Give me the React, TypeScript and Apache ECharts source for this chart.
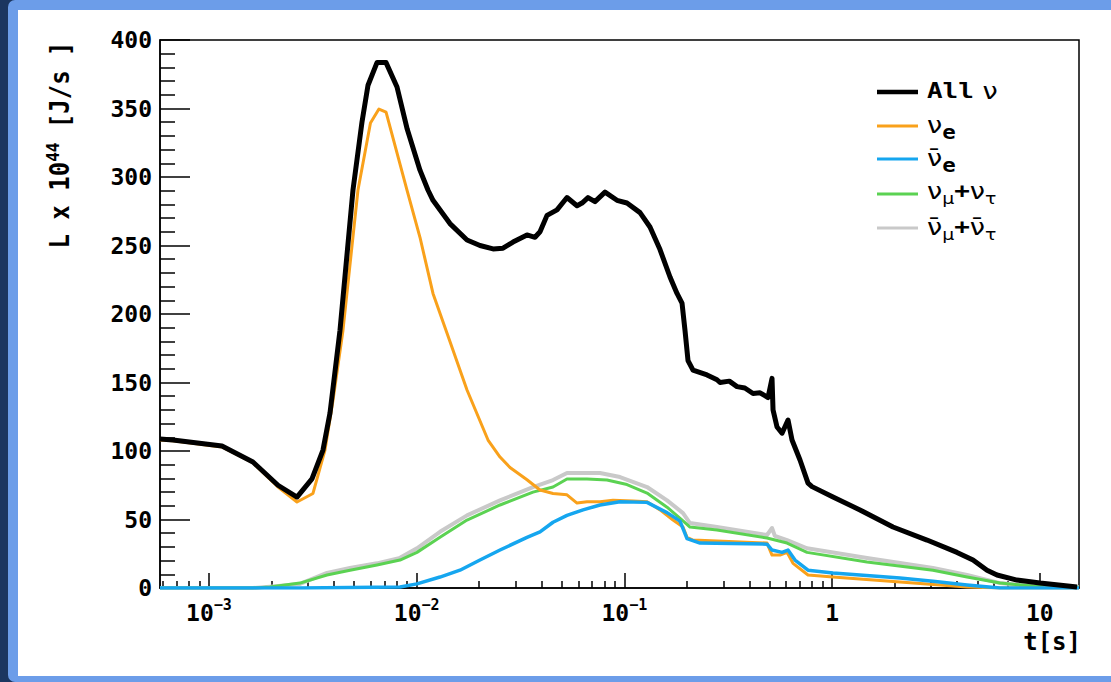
import React, { useEffect, useRef } from "react";
import * as echarts from "echarts";

// ---- data: [t (s), L x 1e44 J/s] ----
const allNu: [number, number][] = [
  [5.81e-4, 108.8], [6.71e-4, 108], [1.155e-3, 103.6], [1.628e-3, 92], [2.149e-3, 75],
  [2.653e-3, 66.4], [3.132e-3, 79.6], [3.539e-3, 100.7], [3.825e-3, 127.7], [4.272e-3, 188],
  [4.935e-3, 290.5], [5.452e-3, 340], [5.83e-3, 367], [6.44e-3, 383.5], [7.12e-3, 383.5],
  [8.04e-3, 365.7], [9.0e-3, 335], [1.037e-2, 305], [1.133e-2, 290.5], [1.198e-2, 283],
  [1.446e-2, 266], [1.747e-2, 254], [2.017e-2, 250], [2.331e-2, 247.5], [2.604e-2, 248],
  [2.909e-2, 252.5], [3.397e-2, 257.7], [3.712e-2, 256], [3.924e-2, 260], [4.241e-2, 272],
  [4.739e-2, 276], [5.292e-2, 285], [5.914e-2, 279], [6.251e-2, 281], [6.681e-2, 285],
  [7.218e-2, 282], [8.065e-2, 289], [9.212e-2, 283], [1.029e-1, 281], [1.189e-1, 274],
  [1.328e-1, 263.5], [1.484e-1, 247], [1.658e-1, 227], [1.792e-1, 215], [1.894e-1, 208],
  [1.958e-1, 188], [2.024e-1, 166], [2.139e-1, 159], [2.499e-1, 155.5], [2.792e-1, 152],
  [2.886e-1, 150], [3.2e-1, 151], [3.485e-1, 147], [3.8e-1, 146], [4.161e-1, 142],
  [4.5e-1, 142.5], [4.915e-1, 139], [5.137e-1, 153], [5.195e-1, 130], [5.43e-1, 117.5],
  [5.74e-1, 113], [6.134e-1, 122.6], [6.412e-1, 108], [7.006e-1, 93.4], [7.656e-1, 76.6],
  [8.004e-1, 74], [1.01, 66.4], [1.362, 57], [1.964, 44.5], [2.863, 35], [3.994, 26],
  [4.769, 20.4], [5.57, 13], [6.222, 9.5], [7.766, 5.8], [10.02, 3.6], [15.11, 0.7],
];

const nuE: [number, number][] = [
  [5.81e-4, 108], [6.71e-4, 107.4], [1.155e-3, 103], [1.628e-3, 91.4], [2.149e-3, 73.7],
  [2.653e-3, 62.8], [3.167e-3, 69], [3.618e-3, 100.7], [3.954e-3, 137], [4.416e-3, 188],
  [5.216e-3, 290.5], [5.99e-3, 339.4], [6.58e-3, 349.6], [7.12e-3, 347.4], [8.98e-3, 290.5],
  [1.037e-2, 256], [1.198e-2, 215], [1.40e-2, 186], [1.747e-2, 144.5], [2.205e-2, 108],
  [2.519e-2, 95.6], [2.813e-2, 88], [3.397e-2, 79], [3.924e-2, 71.5], [4.533e-2, 69],
  [5.292e-2, 68], [5.914e-2, 62], [6.607e-2, 63], [7.63e-2, 63], [8.811e-2, 64],
  [1.1e-1, 63.5], [1.285e-1, 63], [1.484e-1, 57], [1.714e-1, 49.6], [1.915e-1, 44.5],
  [2.002e-1, 37], [2.139e-1, 35], [2.792e-1, 34.3], [4.861e-1, 32.8], [5.137e-1, 24],
  [5.614e-1, 24], [6.067e-1, 26], [6.484e-1, 18], [7.656e-1, 9.5], [1.01, 8],
  [2.123, 4.4], [4.462, 0.7], [6.433, 0], [15.44, 0],
];

const antiNuE: [number, number][] = [
  [5.81e-4, 0], [2.742e-3, 0], [8.312e-3, 0.7], [1.003e-2, 3], [1.295e-2, 8],
  [1.616e-2, 13], [2.017e-2, 20.4], [2.519e-2, 27.7], [3.397e-2, 37], [3.924e-2, 41],
  [4.533e-2, 48], [5.292e-2, 53], [6.321e-2, 57], [7.63e-2, 60.6], [9.524e-2, 63],
  [1.285e-1, 62.5], [1.604e-1, 55], [1.852e-1, 48.8], [2.002e-1, 36], [2.312e-1, 32.8],
  [4.861e-1, 32], [5.137e-1, 27.7], [5.74e-1, 26], [6.134e-1, 27.7], [6.628e-1, 20.4],
  [7.656e-1, 13], [1.01, 11], [2.123, 7.3], [3.06, 5], [4.462, 2.2], [6.433, 0], [15.44, 0],
];

const nuMuTau: [number, number][] = [
  [5.81e-4, 0], [1.628e-3, 0], [1.966e-3, 0.7], [2.742e-3, 3.6], [3.699e-3, 9.5],
  [4.774e-3, 13], [6.438e-3, 16.8], [8.312e-3, 20.4], [1.003e-2, 26], [1.295e-2, 37],
  [1.747e-2, 49.6], [2.519e-2, 60.6], [3.63e-2, 70], [4.533e-2, 73.7], [5.292e-2, 79.6],
  [6.607e-2, 79.6], [8.246e-2, 78.8], [1.029e-1, 75.5], [1.285e-1, 69.3], [1.604e-1, 59],
  [1.915e-1, 49], [2.069e-1, 44.5], [2.792e-1, 42.3], [4.861e-1, 36.5], [6.067e-1, 32.8],
  [7.573e-1, 26], [1.472, 19], [3.06, 13], [4.462, 8], [6.433, 3.6], [9.275, 1.5],
  [13.52, 0.7], [15.44, 0.5],
];

const antiNuMuTau: [number, number][] = [
  [5.81e-4, 0], [1.628e-3, 0], [1.966e-3, 1], [2.742e-3, 3], [3.699e-3, 11],
  [4.774e-3, 14.6], [6.438e-3, 18], [8.312e-3, 22], [1.003e-2, 29], [1.295e-2, 41],
  [1.747e-2, 53], [2.519e-2, 64], [3.63e-2, 73.7], [4.533e-2, 78.8], [5.292e-2, 84],
  [7.63e-2, 84], [9.524e-2, 81], [1.285e-1, 73.7], [1.604e-1, 64], [1.915e-1, 54.7],
  [2.069e-1, 47.4], [2.792e-1, 44.5], [4.861e-1, 38.7], [5.137e-1, 43.8], [5.3e-1, 38],
  [6.067e-1, 35], [7.573e-1, 29], [1.472, 21.9], [3.06, 14.6], [4.462, 9.5],
  [6.433, 3.6], [9.275, 1.5], [15.44, 0.5],
];

const xMin = 5.81e-4;
const xMax = 15.44;
const xMajorTicks = [1e-3, 1e-2, 1e-1, 1, 10];
const xMinorTicks = [
  6e-4, 7e-4, 8e-4, 9e-4,
  2e-3, 3e-3, 4e-3, 5e-3, 6e-3, 7e-3, 8e-3, 9e-3,
  2e-2, 3e-2, 4e-2, 5e-2, 6e-2, 7e-2, 8e-2, 9e-2,
  0.2, 0.3, 0.4, 0.5, 0.6, 0.7, 0.8, 0.9,
  2, 3, 4, 5, 6, 7, 8, 9,
];
const xLabelText: Record<string, string> = {
  "0.001": "{b|10}{s|−3}",
  "0.01": "{b|10}{s|−2}",
  "0.1": "{b|10}{s|−1}",
  "1": "{b|1}",
  "10": "{b|10}",
};
const yMin = 0;
const yMax = 400;
const yInterval = 50;

const seriesNames = ["All ν", "νe", "ν̄e", "νμ+ντ", "ν̄μ+ν̄τ"];
const COLORS = {
  all: "#000000",
  nuE: "#f9a11b",
  antiNuE: "#15a6ef",
  nuMuTau: "#5bd252",
  antiNuMuTau: "#c9c9c9",
};

const MONO = "DejaVu Sans Mono";
const SANS = "DejaVu Sans";

export default function App() {
  const ref = useRef<HTMLDivElement>(null);

  useEffect(() => {
    document.body.style.margin = "0";
    if (!ref.current) return;
    const chart = echarts.init(ref.current, undefined, { renderer: "svg" });

    const grid = { left: 160, right: 32, top: 40, bottom: 94 };

    const legendRows = [
      { y: 92, color: COLORS.all, w: 4.5, text: "{m|All}{g| ν}", ty: 91 },
      { y: 126, color: COLORS.nuE, w: 3, text: "{g|ν}{sube|e}", ty: 125 },
      { y: 159, color: COLORS.antiNuE, w: 3, text: "{g|ν\u0304}{sube|e}", ty: 158 },
      { y: 194, color: COLORS.nuMuTau, w: 3, text: "{g|ν}{subg|μ}{p|+}{g|ν}{subg|τ}", ty: 191 },
      { y: 228, color: COLORS.antiNuMuTau, w: 3, text: "{g|ν\u0304}{subg|μ}{p|+}{g|ν\u0304}{subg|τ}", ty: 227 },
    ];
    const legendRich = {
      m: { fontFamily: MONO, fontWeight: "bold", fontSize: 22, lineHeight: 30, fill: "#000" },
      g: { fontFamily: SANS, fontSize: 23, lineHeight: 30, fill: "#000" },
      sube: { fontFamily: MONO, fontWeight: "bold", fontSize: 19, lineHeight: 30, padding: [16, 0, 0, 0], fill: "#000" },
      subg: { fontFamily: SANS, fontSize: 16, lineHeight: 30, padding: [16, 0, 0, 0], fill: "#000" },
      p: { fontFamily: MONO, fontWeight: "bold", fontSize: 22, lineHeight: 30, fill: "#000" },
    };

    const graphicEls: any[] = [];
    legendRows.forEach((r) => {
      graphicEls.push({
        type: "line",
        shape: { x1: 877, y1: r.y, x2: 918, y2: r.y },
        style: { stroke: r.color, lineWidth: r.w },
        z: 100,
      });
      graphicEls.push({
        type: "text",
        x: 927,
        y: r.ty,
        scaleX: 1.18,
        z: 100,
        style: { text: r.text, rich: legendRich, align: "left", verticalAlign: "middle" },
      });
    });
    graphicEls.push({
      type: "text",
      x: 60,
      y: 145,
      rotation: Math.PI / 2,
      scaleY: 1.12,
      z: 100,
      style: {
        text: "{a|L x 10}{s|44}{a| [J/s ]}",
        align: "center",
        verticalAlign: "middle",
        rich: {
          a: { fontFamily: MONO, fontWeight: "bold", fontSize: 24, lineHeight: 30, fill: "#000" },
          s: { fontFamily: MONO, fontWeight: "bold", fontSize: 16, lineHeight: 30, padding: [0, 0, 14, 0], fill: "#000" },
        },
      },
    });
    graphicEls.push({
      type: "text",
      x: 1081,
      y: 642,
      z: 100,
      style: {
        text: "t[s]",
        fontFamily: MONO,
        fontWeight: "bold",
        fontSize: 24,
        fill: "#000",
        align: "right",
        verticalAlign: "middle",
      },
    });

    const mkLine = (name: string, data: [number, number][], color: string, width: number, z: number) => ({
      name,
      type: "line",
      data,
      xAxisIndex: 0,
      yAxisIndex: 0,
      showSymbol: false,
      symbol: "none",
      lineStyle: { color, width, join: "round" },
      itemStyle: { color },
      z,
      silent: true,
    });

    chart.setOption({
      animation: false,
      backgroundColor: "transparent",
      grid: [
        { ...grid, show: true, borderColor: "#000", borderWidth: 1.5, backgroundColor: "transparent", outerBoundsMode: "none" },
        { ...grid, show: false, outerBoundsMode: "none" },
      ],
      xAxis: [
        {
          type: "log",
          logBase: 10,
          gridIndex: 0,
          min: xMin,
          max: xMax,
          position: "bottom",
          axisLine: { show: true, onZero: false, lineStyle: { color: "#000", width: 1.5 } },
          axisTick: { show: true, inside: true, length: 15, customValues: xMajorTicks, lineStyle: { color: "#000", width: 1.5 } },
          minorTick: { show: false },
          splitLine: { show: false },
          axisLabel: {
            show: true,
            customValues: xMajorTicks,
            margin: 15,
            color: "#000",
            formatter: (v: number) => {
              const key = String(Number(v.toPrecision(6)));
              return xLabelText[key] ?? String(v);
            },
            rich: {
              b: { fontFamily: MONO, fontWeight: "bold", fontSize: 23, lineHeight: 20, color: "#000" },
              s: { fontFamily: MONO, fontWeight: "bold", fontSize: 15, lineHeight: 20, padding: [0, 0, 16, 0], color: "#000" },
            },
          },
        },
        {
          type: "log",
          logBase: 10,
          gridIndex: 1,
          min: xMin,
          max: xMax,
          position: "bottom",
          axisLine: { show: false, onZero: false },
          axisTick: { show: true, inside: true, length: 7, customValues: xMinorTicks, lineStyle: { color: "#000", width: 1.5 } },
          axisLabel: { show: false },
          splitLine: { show: false },
        },
      ],
      yAxis: [
        {
          type: "value",
          gridIndex: 0,
          min: yMin,
          max: yMax,
          interval: yInterval,
          axisLine: { show: true, lineStyle: { color: "#000", width: 1.5 } },
          axisTick: { show: true, inside: true, length: 30, lineStyle: { color: "#000", width: 1.5 } },
          minorTick: { show: true, splitNumber: 5, length: 15, lineStyle: { color: "#000", width: 1.5 } },
          splitLine: { show: false },
          minorSplitLine: { show: false },
          axisLabel: {
            margin: 8,
            color: "#000",
            fontFamily: MONO,
            fontWeight: "bold",
            fontSize: 23,
          },
        },
        { type: "value", gridIndex: 1, min: yMin, max: yMax, show: false },
      ],
      series: [
        mkLine(seriesNames[4], antiNuMuTau, COLORS.antiNuMuTau, 4, 2),
        mkLine(seriesNames[3], nuMuTau, COLORS.nuMuTau, 3, 3),
        mkLine(seriesNames[1], nuE, COLORS.nuE, 3, 4),
        mkLine(seriesNames[2], antiNuE, COLORS.antiNuE, 3.5, 5),
        mkLine(seriesNames[0], allNu, COLORS.all, 5, 6),
      ],
      graphic: { elements: graphicEls },
    });

    return () => {
      chart.dispose();
    };
  }, []);

  return (
    <div style={{ position: "relative", width: 1111, height: 682, background: "#1b3660", overflow: "hidden" }}>
      <div style={{ position: "absolute", left: 8, top: 0, width: 1103, height: 682, background: "#6c9de9", borderRadius: "7px 0 0 7px" }} />
      <div style={{ position: "absolute", left: 18, top: 10, width: 1093, height: 666, background: "#ffffff" }} />
      <div ref={ref} style={{ position: "absolute", left: 0, top: 0, width: 1111, height: 682 }} />
    </div>
  );
}
